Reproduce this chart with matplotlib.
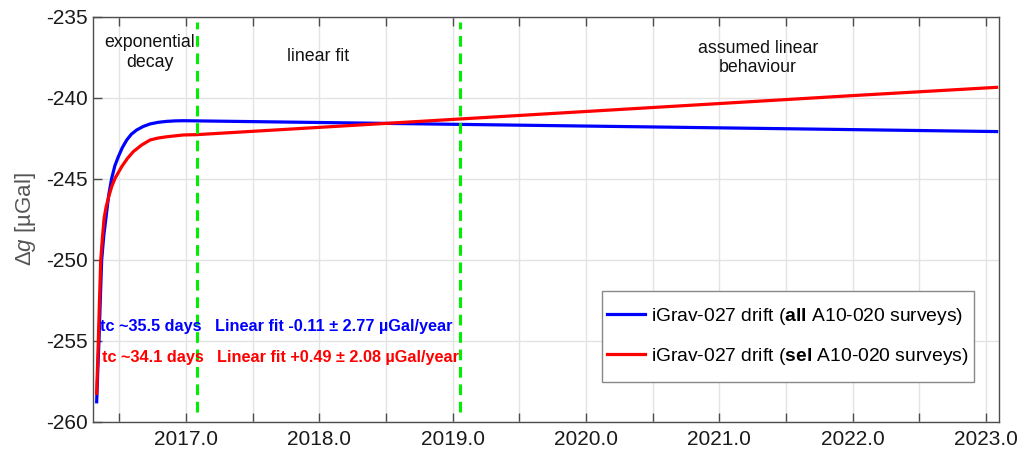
import matplotlib
matplotlib.use("Agg")
import matplotlib.pyplot as plt
from matplotlib.ticker import MultipleLocator, FuncFormatter
from matplotlib.patches import Rectangle

plt.rcParams['font.family'] = ['Liberation Sans', 'DejaVu Sans']
plt.rcParams['mathtext.fontset'] = 'custom'
plt.rcParams['mathtext.rm'] = 'Liberation Sans'
plt.rcParams['mathtext.bf'] = 'Liberation Sans:bold'
plt.rcParams['mathtext.it'] = 'Liberation Sans:italic'

# ---- data ----
blue_years = [2016.3295, 2016.338, 2016.347, 2016.357, 2016.367, 2016.383, 2016.400,
              2016.420, 2016.442, 2016.466, 2016.492, 2016.522, 2016.555, 2016.590,
              2016.630, 2016.680, 2016.730, 2016.790, 2016.855, 2016.920, 2016.979,
              2017.080, 2018.0, 2019.0, 2020.0, 2021.0, 2022.0, 2023.08]
blue_vals = [-258.77, -256.8, -254.96, -252.4, -250.02, -248.5, -247.35,
             -246.0, -244.98, -244.2, -243.64, -243.08, -242.61, -242.25,
             -241.99, -241.77, -241.62, -241.52, -241.46, -241.43, -241.42,
             -241.43, -241.53, -241.64, -241.75, -241.86, -241.97, -242.09]

red_years = [2016.3295, 2016.342, 2016.351, 2016.360, 2016.372, 2016.385, 2016.400,
             2016.417, 2016.442, 2016.467, 2016.517, 2016.560, 2016.604, 2016.665,
             2016.730, 2016.790, 2016.855, 2016.979, 2017.080,
             2018.0, 2019.0, 2020.0, 2021.0, 2022.0, 2023.08]
red_vals = [-258.25, -254.96, -252.4, -250.02, -248.7, -247.45, -246.75,
            -246.2, -245.49, -244.98, -244.26, -243.75, -243.33, -242.93,
            -242.61, -242.49, -242.41, -242.30, -242.28,
            -241.83, -241.34, -240.85, -240.36, -239.87, -239.36]

boundary_years = [2017.08, 2019.055]

legend_labels = ["iGrav-027 drift ($\\bf{all}$ A10-020 surveys)",
                 "iGrav-027 drift ($\\bf{sel}$ A10-020 surveys)"]
tc_labels = ["tc ~35.5 days", "tc ~34.1 days"]
fit_labels = ["Linear fit -0.11 \u00b1 2.77 \u00b5Gal/year",
              "Linear fit +0.49 \u00b1 2.08 \u00b5Gal/year"]
region_labels = ["exponential\ndecay", "linear fit", "assumed linear\nbehaviour"]

# ---- figure ----
fig = plt.figure(figsize=(10.30, 4.54), dpi=100)
ax = fig.add_axes([0.0903, 0.0711, 0.8799, 0.8921])

ax.set_xlim(2016.302, 2023.10)
ax.set_ylim(-260, -235)

ax.xaxis.set_major_locator(MultipleLocator(0.5))
ax.xaxis.set_major_formatter(FuncFormatter(
    lambda v, p: f"{v:.1f}" if abs(v - round(v)) < 1e-6 else ""))
ax.yaxis.set_major_locator(MultipleLocator(5))
ax.yaxis.set_major_formatter(FuncFormatter(lambda v, p: f"{v:.0f}"))

ax.grid(True, color='#e3e3e3', linewidth=1.0)
ax.set_axisbelow(True)

for s in ax.spines.values():
    s.set_color('#4d4d4d')
    s.set_linewidth(1.0)

ax.tick_params(axis='both', direction='in', length=6.5, width=1.0, color='#4d4d4d',
               labelsize=15, labelcolor='#1a1a1a')
ax.tick_params(axis='x', top=True, bottom=True, pad=6)
ax.tick_params(axis='y', left=True, right=False, pad=3.5)

ax.plot(blue_years, blue_vals, color='#0000ff', linewidth=2.3, label=legend_labels[0],
        zorder=3, solid_joinstyle='round')
ax.plot(red_years, red_vals, color='#ff0000', linewidth=2.3, label=legend_labels[1],
        zorder=4, solid_joinstyle='round')

for bx in boundary_years:
    ax.vlines(bx, -259.4, -235.3, colors='#00ee00', linestyles=(0, (3.5, 2.2)),
              linewidth=2.2, zorder=5)

ax.set_ylabel("\u0394$\\it{g}$ [\u00b5Gal]", fontsize=16, color='#555555')
ax.yaxis.set_label_coords(-0.0607, 0.5)

ax.text(2016.73, -237.2, region_labels[0], ha='center', va='center', fontsize=12.8,
        color='#111111', linespacing=1.2)
ax.text(2017.99, -237.45, region_labels[1], ha='center', va='center', fontsize=12.8,
        color='#111111')
ax.text(2021.29, -237.55, region_labels[2], ha='center', va='center', fontsize=12.8,
        color='#111111', linespacing=1.2)

fs_ann = 11.7
ax.text(2016.352, -254.14, tc_labels[0], ha='left', va='center', fontsize=fs_ann,
        fontweight='bold', color='#0000ff', zorder=6)
ax.text(2017.22, -254.14, fit_labels[0], ha='left', va='center', fontsize=fs_ann,
        fontweight='bold', color='#0000ff', zorder=6)
ax.text(2016.373, -256.03, tc_labels[1], ha='left', va='center', fontsize=fs_ann,
        fontweight='bold', color='#ff0000', zorder=6)
ax.text(2017.23, -256.03, fit_labels[1], ha='left', va='center', fontsize=fs_ann,
        fontweight='bold', color='#ff0000', zorder=6)

# legend box (frame drawn separately to match padding)
box_x0, box_y0, box_w, box_h = 0.5616, 0.098, 0.4105, 0.2247
ax.add_patch(Rectangle((box_x0, box_y0), box_w, box_h, transform=ax.transAxes,
                       facecolor='white', edgecolor='#888888', linewidth=1.0, zorder=7))
leg = ax.legend(loc='center left', bbox_to_anchor=(0.5671, box_y0 + box_h / 2),
                borderaxespad=0, borderpad=0, fontsize=13.9, frameon=False,
                handlelength=1.97, handletextpad=0.3, labelspacing=1.0)
leg.set_zorder(8)

fig.savefig("out.png", dpi=100)
